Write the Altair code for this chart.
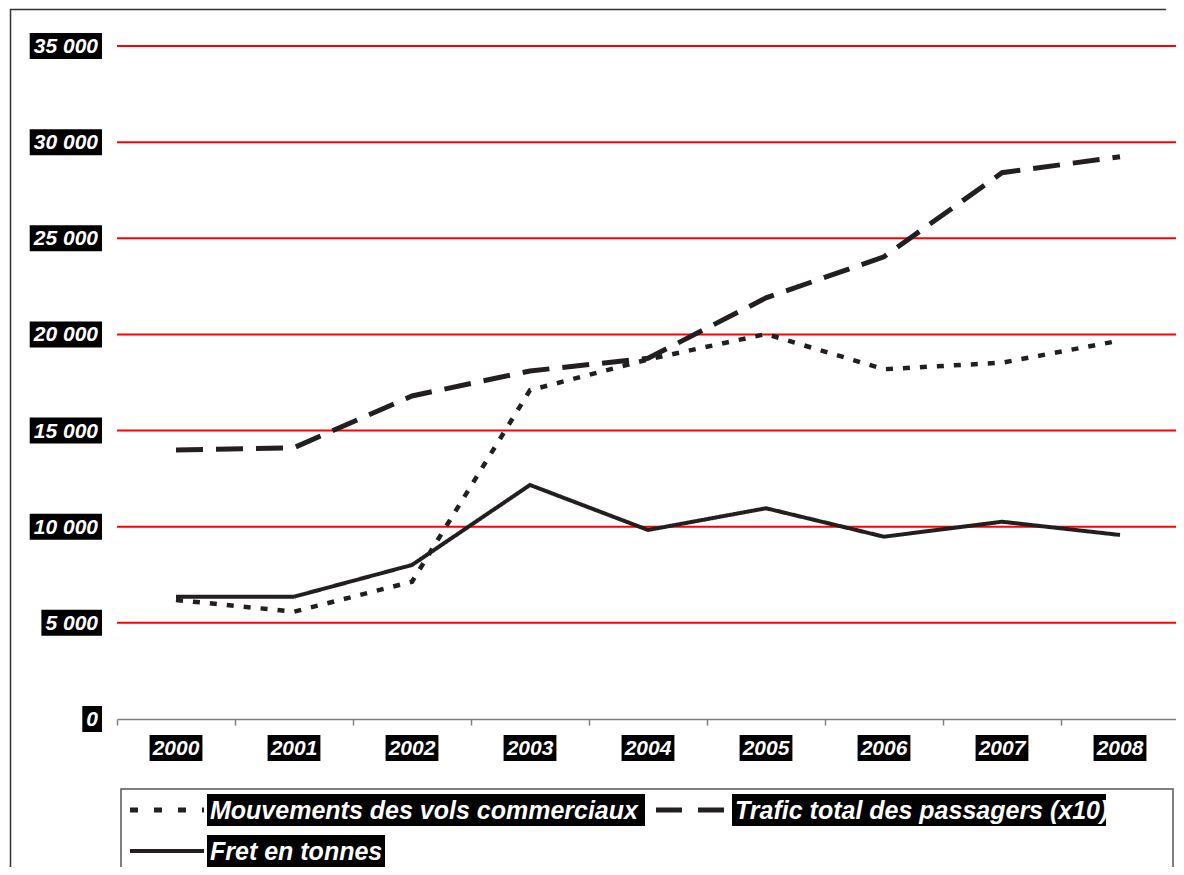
import altair as alt
import pandas as pd

# ---------------- data ----------------
years = [2000, 2001, 2002, 2003, 2004, 2005, 2006, 2007, 2008]
year_labels = ["2000", "2001", "2002", "2003", "2004", "2005", "2006", "2007", "2008"]
mouvements = [6190, 5580, 7140, 17100, 18700, 20020, 18190, 18530, 19680]
trafic = [13990, 14110, 16800, 18100, 18760, 21900, 24040, 28410, 29240]
fret = [6360, 6360, 8010, 12170, 9830, 10960, 9480, 10260, 9570]
series_names = ["Mouvements des vols commerciaux",
                "Trafic total des passagers (x10)",
                "Fret en tonnes"]
y_ticks = [0, 5000, 10000, 15000, 20000, 25000, 30000, 35000]
y_tick_labels = ["0", "5 000", "10 000", "15 000", "20 000", "25 000", "30 000", "35 000"]

# ---------------- layout (page pixels) ----------------
PL, PT = 117, 46          # plot origin on page
W, H = 1062, 673          # plot area
SVG_RIGHT, SVG_BOTTOM = 1176, 867


def px(x):
    return x - PL


def py(y):
    return y - PT


LINE_COLOR = "#231f20"
FONT = "Liberation Sans"
LABEL_SIZE = 21

rows = []
for name, vals in zip(series_names, [mouvements, trafic, fret]):
    for yr, v in zip(years, vals):
        rows.append({"year": yr, "value": v, "series": name})
df = pd.DataFrame(rows)

xscale = alt.Scale(domain=[1999.5, 2008.5], nice=False, zero=False)
yscale = alt.Scale(domain=[0, 35000], nice=False, zero=True)

# gridlines / axes
grid = alt.Chart(pd.DataFrame({"v": y_ticks[1:]})).mark_rule(
    color="#ff0000", strokeWidth=2
).encode(
    y=alt.Y("v:Q", scale=yscale, axis=None),
    x=alt.value(0), x2=alt.value(W),
)

xaxis_df = pd.DataFrame({"year": years})
xaxis = alt.Chart(xaxis_df).mark_point(opacity=0).encode(
    x=alt.X("year:Q", scale=xscale,
            axis=alt.Axis(values=[y - 0.5 for y in years] + [2008.5], labels=False,
                          title=None, grid=False, domainColor="#808080",
                          domainWidth=1.5, tickColor="#808080", tickWidth=1.5,
                          tickSize=6)),
)

dash_map = {series_names[0]: [7, 10], series_names[1]: [27, 13], series_names[2]: [1, 0]}
width_map = {series_names[0]: 4.5, series_names[1]: 5, series_names[2]: 4}

lines = []
for name in series_names:
    lines.append(
        alt.Chart(df[df.series == name]).mark_line(
            color=LINE_COLOR, strokeDash=dash_map[name], strokeWidth=width_map[name],
            strokeCap="butt", strokeJoin="miter"
        ).encode(
            x=alt.X("year:Q", scale=xscale),
            y=alt.Y("value:Q", scale=yscale),
        )
    )

# y labels with black boxes
ylab_df = pd.DataFrame({"v": y_ticks, "label": y_tick_labels})
ybox = alt.Chart(ylab_df).transform_calculate(
    w="11.7*length(replace(datum.label,' ','')) + 5.8*(length(datum.label)-length(replace(datum.label,' ',''))) + 8",
    path="'M' + (-datum.w) + ',-13H0V13H' + (-datum.w) + 'Z'",
).mark_point(filled=True, size=4, opacity=1, color="black", strokeWidth=0).encode(
    y=alt.Y("v:Q", scale=yscale),
    x=alt.value(px(102)),
    shape=alt.Shape("path:N", scale=None, legend=None),
)
ytext = alt.Chart(ylab_df).mark_text(
    align="right", baseline="middle", color="white", font=FONT, fontSize=LABEL_SIZE,
    fontStyle="italic", fontWeight="bold", dy=1
).encode(
    y=alt.Y("v:Q", scale=yscale),
    x=alt.value(px(98)),
    text="label:N",
)

# x labels with black boxes
xlab_df = pd.DataFrame({"year": years, "label": year_labels})
xbox = alt.Chart(xlab_df).transform_calculate(
    w="11.7*length(datum.label) + 6",
    path="'M' + (-datum.w/2) + ',-13H' + (datum.w/2) + 'V13H' + (-datum.w/2) + 'Z'",
).mark_point(filled=True, size=4, opacity=1, color="black", strokeWidth=0).encode(
    x=alt.X("year:Q", scale=xscale),
    y=alt.value(py(748)),
    shape=alt.Shape("path:N", scale=None, legend=None),
)
xtext = alt.Chart(xlab_df).mark_text(
    align="center", baseline="middle", color="white", font=FONT, fontSize=LABEL_SIZE,
    fontStyle="italic", fontWeight="bold", dy=1
).encode(
    x=alt.X("year:Q", scale=xscale),
    y=alt.value(py(748)),
    text="label:N",
)

# outer frame: top and left edges (the others lie outside the picture)
one = pd.DataFrame({"a": [0]})
frame_left = alt.Chart(one).mark_rule(color="#333333", strokeWidth=1.5).encode(
    x=alt.value(px(10.5)), y=alt.value(py(9)), y2=alt.value(py(SVG_BOTTOM)))
frame_top = alt.Chart(one).mark_rule(color="#333333", strokeWidth=1.5).encode(
    x=alt.value(px(10)), x2=alt.value(px(SVG_RIGHT - 10)), y=alt.value(py(9.5)))

# legend
leg_frame = alt.Chart(one).mark_rect(
    fill="white", stroke="#555555", strokeWidth=1.5
).encode(
    x=alt.value(px(121)), x2=alt.value(px(1173)),
    y=alt.value(py(789)), y2=alt.value(py(873.5)),
)

legend_items = [
    # (name, symbol x0, x1, y, box x0, x1, dash, width)
    (series_names[0], 130, 204, 810, 207, 645, [8, 16], 5),
    (series_names[1], 656, 726, 810, 732, 1106, [26, 16], 5),
    (series_names[2], 130, 204, 851, 207, 385, [1, 0], 4),
]
leg_layers = [leg_frame]
for name, sx0, sx1, sy, bx0, bx1, dash, sw in legend_items:
    d = pd.DataFrame({"label": [name]})
    leg_layers.append(alt.Chart(d).mark_rule(
        color=LINE_COLOR, strokeDash=dash, strokeWidth=sw, strokeCap="butt"
    ).encode(x=alt.value(px(sx0)), x2=alt.value(px(sx1)), y=alt.value(py(sy))))
    leg_layers.append(alt.Chart(d).mark_rect(color="black").encode(
        x=alt.value(px(bx0)), x2=alt.value(px(bx1)),
        y=alt.value(py(sy - 16)), y2=alt.value(py(sy + 16))))
    leg_layers.append(alt.Chart(d).mark_text(
        align="left", baseline="middle", color="white", font=FONT, fontSize=25,
        fontStyle="italic", fontWeight="bold", dy=1
    ).encode(x=alt.value(px(bx0 + 3)), y=alt.value(py(sy)), text="label:N"))

chart = alt.layer(
    frame_left, frame_top, grid, xaxis, *lines, ybox, ytext, xbox, xtext, *leg_layers
).properties(
    width=W, height=H,
    padding={"left": PL - 8, "top": PT - 8,
             "right": SVG_RIGHT - PL - W, "bottom": SVG_BOTTOM - PT - H},
    autosize=alt.AutoSizeParams(type="none"),
    background="white",
).configure_view(stroke=None)

chart.save("out.html", embed_options={"renderer": "svg", "actions": False})
